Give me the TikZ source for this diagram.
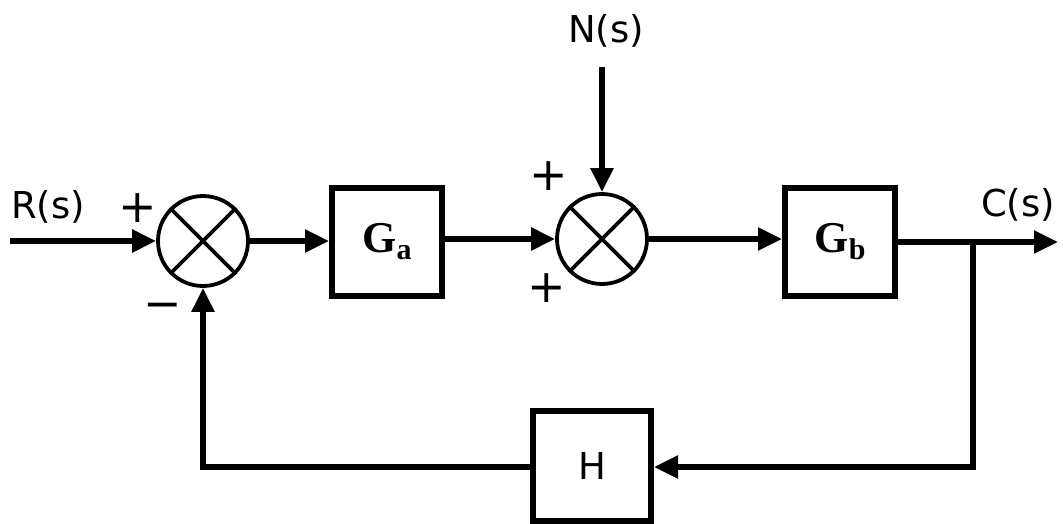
\documentclass[tikz,border=0pt]{standalone}
\usepackage{fontspec}
\setmainfont{DejaVu Sans}
\newfontfamily\gfont{Liberation Serif}
\usetikzlibrary{arrows.meta}
\begin{document}
\begin{tikzpicture}[x=1pt,y=-1pt,
  blk/.style={draw,line width=6pt,minimum width=110pt,minimum height=108pt,inner sep=0pt},
  sumj/.style={draw,circle,line width=3.8pt,minimum size=90pt,inner sep=0pt},
  sig/.style={line width=5.5pt,-{Triangle[length=24pt,width=22pt]}},
  wire/.style={line width=5.5pt},
  lbl/.style={font=\fontsize{37}{40}\selectfont,inner sep=0pt},
  sgn/.style={font=\fontsize{46}{46}\selectfont,inner sep=0pt},
  gtxt/.style={font=\gfont\bfseries\fontsize{44}{46}\selectfont,inner sep=0pt}]
\useasboundingbox (0,0) rectangle (1063,523);
% summing junctions
\node[sumj] (s1) at (203,241) {};
\node[sumj] (s2) at (602,239) {};
\foreach \s in {s1,s2}{
  \draw[line width=3.8pt] (\s.45) -- (\s.225) (\s.135) -- (\s.315);
}
% blocks
\node[blk] (ga) at (387,242) {};
\node[gtxt] at (ga.center) {G\raisebox{-0.35ex}{\fontsize{30}{30}\selectfont a}};
\node[blk] (gb) at (840,242) {};
\node[gtxt] at (gb.center) {G\raisebox{-0.35ex}{\fontsize{30}{30}\selectfont b}};
\node[blk,minimum width=118pt,minimum height=110pt] (h) at (592,466) {};
\node[lbl] at (h.center) {H};
% labels
\node[lbl] (r) at (48,207) {R(s)};
\node[lbl] (n) at (606,31) {N(s)};
\node[lbl] (c) at (1018,205) {C(s)};
\node[sgn] (p1) at (138,208) {+};
\node[sgn] (m1) at (163,311) {\textminus};
\node[sgn] (p2) at (549,176) {+};
\node[sgn] (p3) at (547,288) {+};
% coordinates
\coordinate (rin) at (10,241);
\coordinate (nin) at (602,67);
\coordinate (br) at (973,242);
\coordinate (cout) at (1058,242);
\coordinate (fb1) at (973,467);
\coordinate (fb2) at (203,467);
% connectors
\draw[sig] (rin) -- (s1.west);
\draw[sig] (s1.east) -- (ga.west |- s1.east);
\draw[sig] (ga.east |- s2.west) -- (s2.west);
\draw[sig] (nin) -- (s2.north);
\draw[sig] (s2.east) -- (gb.west |- s2.east);
\draw[sig] (gb.east) -- (cout);
\draw[wire,line join=miter] (br) -- (fb1) -- ++(-20,0);
\draw[sig] (fb1) -- (h.east |- fb1);
\draw[wire,line join=miter] (h.west |- fb2) -- (fb2) -- ++(0,-20);
\draw[sig] (fb2) -- (s1.south);
\end{tikzpicture}
\end{document}
